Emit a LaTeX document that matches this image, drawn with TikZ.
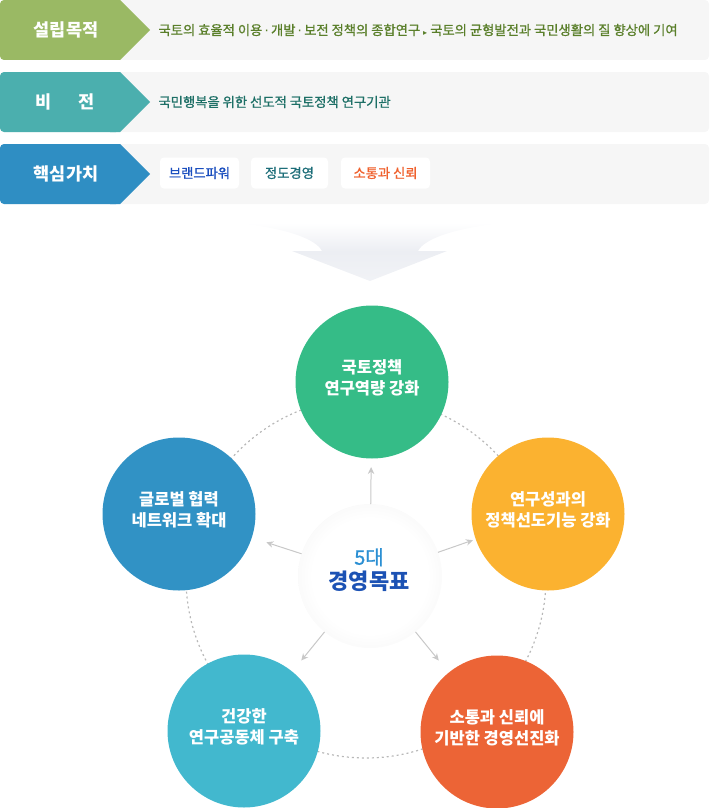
\documentclass[tikz,border=0pt]{standalone}
\usepackage{fontspec}
\setmainfont{Noto Sans CJK KR}
\newfontfamily\medfont{Noto Sans CJK KR}[FakeBold=1]
\newfontfamily\symfont{DejaVu Sans}
\usetikzlibrary{arrows.meta,calc}

\definecolor{labgreen}{HTML}{9AB964}
\definecolor{labteal}{HTML}{4BAFAE}
\definecolor{labblue}{HTML}{2F8EC3}
\definecolor{rowgray}{HTML}{F6F6F6}
\definecolor{purposetxt}{HTML}{5A7F2A}
\definecolor{visiontxt}{HTML}{1D6F66}
\definecolor{chipblue}{HTML}{1B4FBF}
\definecolor{chipteal}{HTML}{1D6E79}
\definecolor{chipred}{HTML}{F0602C}
\definecolor{arrowfill}{HTML}{ECEEF3}
\definecolor{ringgray}{HTML}{B8B8B8}
\definecolor{arrowgray}{HTML}{C8C8C8}
\definecolor{cgreen}{HTML}{35BC87}
\definecolor{cyellow}{HTML}{FBB230}
\definecolor{cred}{HTML}{EC6436}
\definecolor{cteal}{HTML}{42B8CE}
\definecolor{cblue}{HTML}{3192C5}
\definecolor{goaledge}{HTML}{E4E4E4}
\definecolor{goalnum}{HTML}{2B8FD3}
\definecolor{goaltext}{HTML}{1C52B4}

\pgfdeclareradialshading{goalshade}{\pgfpoint{0bp}{0bp}}{color(0bp)=(white); color(20bp)=(white); color(50bp)=(goaledge)}

\begin{document}
\begin{tikzpicture}[x=1pt, y=-1pt,
    rowlabel/.style={text=white, font=\bfseries\fontsize{17.5}{18}\selectfont},
    rowtext/.style={anchor=west, font=\medfont\fontsize{13.3}{15}\selectfont},
    chip/.style={fill=white, rounded corners=4pt, minimum width=#1, minimum height=31pt, inner sep=0pt, font=\medfont\fontsize{13.3}{15}\selectfont},
    goalcircle/.style={circle, minimum size=153pt, inner sep=0pt},
    goallabel/.style={text=white, align=center, yshift=4pt, font=\bfseries\fontsize{16.5}{21}\selectfont},
    goalarrow/.style={draw=arrowgray, line width=1pt, -{Stealth[length=7pt,width=6.5pt]}}]
  \useasboundingbox (0,0) rectangle (710,808);

  \foreach \y/\c in {0/labgreen, 72/labteal, 144/labblue} {
    \fill[rowgray, rounded corners=4pt] (0,\y) rectangle (709,\y+60);
    \fill[\c, rounded corners=4pt] (0,\y) rectangle (120,\y+60);
    \fill[\c] (110,\y) -- (120,\y) -- (150,\y+30) -- (120,\y+60) -- (110,\y+60) -- cycle;
  }
  \node[rowlabel] (purpose) at (66,30) {설립목적};
  \node[rowlabel] (vision) at (65,102) {비\hspace{27pt}전};
  \node[rowlabel] (values) at (66,174) {핵심가치};

  \node[rowtext, text=purposetxt] (purposetext) at (155,30) {국토의 효율적 이용\,{\symfont·}\,개발\,{\symfont·}\,보전 정책의 종합연구 {\symfont\fontsize{8}{8}\selectfont ▸} 국토의 균형발전과 국민생활의 질 향상에 기여};
  \node[rowtext, text=visiontxt] (visiontext) at (155,102) {국민행복을 위한 선도적 국토정책 연구기관};
  \node[chip=79pt, text=chipblue] (brand) at (199.5,173) {브랜드파워};
  \node[chip=77pt, text=chipteal] (ethics) at (289.5,173) {정도경영};
  \node[chip=89pt, text=chipred] (trustchip) at (385.5,173) {소통과 신뢰};

  \shade[top color=white, bottom color=arrowfill]
    (237,223) .. controls (300,230) and (318,243) .. (322,251) -- (418,251)
    .. controls (422,243) and (440,230) .. (503,223) -- cycle;
  \shade[top color=arrowfill, bottom color=arrowfill!75!white] (292,251) -- (447,251) -- (370,281) -- cycle;

  \coordinate (ring) at (366,578);
  \draw[ringgray, line width=1.2pt, dash pattern=on 2pt off 3pt] (ring) circle[radius=180];

  \node[goalcircle, fill=cgreen, label={[goallabel]center:국토정책\\연구역량 강화}] (policy) at (372,382) {};
  \node[goalcircle, fill=cyellow, label={[goallabel]center:연구성과의\\정책선도기능 강화}] (result) at (548,514) {};
  \node[goalcircle, fill=cred, label={[goallabel]center:소통과 신뢰에\\기반한 경영선진화}] (trust) at (497,732) {};
  \node[goalcircle, fill=cteal, label={[goallabel]center:건강한\\연구공동체 구축}] (community) at (244,731) {};
  \node[goalcircle, fill=cblue, label={[goallabel]center:글로벌 협력\\네트워크 확대}] (network) at (179,514) {};

  \node[circle, minimum size=144pt, inner sep=0pt, shading=goalshade] (goal) at (370,576) {};
  \node[align=center] (goaltitle) at (369,570)
    {\medfont\fontsize{20}{24}\selectfont\color{goalnum}5대\\[4pt]\fontsize{22}{26}\selectfont\bfseries\color{goaltext}경영목표};

  \foreach \g in {policy, result, trust, community, network}
    \draw[goalarrow] ($(goal)!72pt!(\g)$) -- ($(goal)!109pt!(\g)$);
\end{tikzpicture}
\end{document}
